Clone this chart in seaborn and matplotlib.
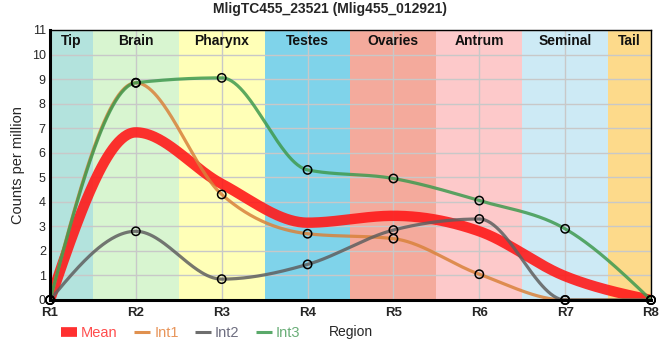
import numpy as np
import pandas as pd
import matplotlib
matplotlib.use("Agg")
import matplotlib.pyplot as plt
from matplotlib.lines import Line2D
import seaborn as sns

sns.set_theme(style="white")
plt.rcParams['font.family'] = ['Liberation Sans', 'DejaVu Sans']

regions = ["R1", "R2", "R3", "R4", "R5", "R6", "R7", "R8"]
int1 = [0, 8.85, 4.3, 2.7, 2.5, 1.05, 0, 0]
int2 = [0, 2.8, 0.85, 1.45, 2.85, 3.3, 0, 0]
int3 = [0, 8.85, 9.05, 5.3, 4.95, 4.05, 2.9, 0]
mean = [0, 6.83, 4.73, 3.15, 3.43, 2.8, 0.97, 0]

band_names = ["Tip", "Brain", "Pharynx", "Testes", "Ovaries", "Antrum", "Seminal", "Tail"]
band_starts = [0, 0.5, 1.5, 2.5, 3.5, 4.5, 5.5, 6.5]
band_ends = [0.5, 1.5, 2.5, 3.5, 4.5, 5.5, 6.5, 7]
band_colors = ["#b3e3dd", "#d8f5d0", "#ffffb7", "#7fd3ea", "#f4aa9c", "#fdc9ca", "#cdeaf5", "#fdda8b"]


def monotone_curve(y, n=60):
    """Render a monotone-X cubic curve through the points (d3.curveMonotoneX style)."""
    y = np.asarray(y, float)
    x = np.arange(len(y), dtype=float)
    s = np.diff(y)
    m = len(y)
    t = np.zeros(m)
    for i in range(1, m - 1):
        s0, s1 = s[i - 1], s[i]
        p = (s0 + s1) / 2
        t[i] = (np.sign(s0) + np.sign(s1)) * min(abs(s0), abs(s1), 0.5 * abs(p))
    t[0] = (3 * s[0] - t[1]) / 2
    t[-1] = (3 * s[-1] - t[-2]) / 2
    xs, ys = [], []
    for i in range(m - 1):
        u = np.linspace(0, 1, n, endpoint=(i == m - 2))
        h00 = 2 * u**3 - 3 * u**2 + 1
        h10 = u**3 - 2 * u**2 + u
        h01 = -2 * u**3 + 3 * u**2
        h11 = u**3 - u**2
        xs.append(x[i] + u)
        ys.append(h00 * y[i] + h10 * t[i] + h01 * y[i + 1] + h11 * t[i + 1])
    return np.concatenate(xs), np.concatenate(ys)


fig = plt.figure(figsize=(6.6, 3.6), dpi=100)
ax = fig.add_axes([50 / 660, 1 - 300 / 360, 601 / 660, 270 / 360])

for a, b, c, name in zip(band_starts, band_ends, band_colors, band_names):
    ax.axvspan(a, b, color=c, lw=0, zorder=0)
    ax.text((a + b) / 2, 10.55, name, ha="center", va="center",
            fontsize=10, fontweight="bold", color="#111111", zorder=5)

ax.set_xlim(0, 7)
ax.set_ylim(0, 11)
ax.set_xticks(range(8))
ax.set_xticklabels(regions, fontsize=9.5, fontweight="bold")
ax.set_yticks(range(12))
ax.set_yticklabels([str(v) for v in range(12)], fontsize=9)
ax.grid(True, color="#c8c8c8", lw=1, zorder=0.5)
ax.set_axisbelow(True)
ax.tick_params(axis="y", length=0, pad=3)
ax.tick_params(axis="x", length=0, pad=5)

series = [
    ("Mean", mean, "#ff1a1a", 7.5, 0.9),
    ("Int1", int1, "#d9823b", 2.3, 0.85),
    ("Int2", int2, "#5f5f5f", 2.3, 0.85),
    ("Int3", int3, "#3f9a4f", 2.3, 0.85),
]
for name, vals, col, lw, al in series:
    cx, cy = monotone_curve(vals)
    df = pd.DataFrame({"x": cx, "y": cy})
    sns.lineplot(data=df, x="x", y="y", ax=ax, color=col, lw=lw, alpha=al,
                 zorder=3, sort=False, estimator=None, solid_capstyle="butt")

for name, vals, col, lw, al in series[1:]:
    dfp = pd.DataFrame({"x": np.arange(len(vals)), "y": vals})
    sns.scatterplot(data=dfp, x="x", y="y", ax=ax, s=36, facecolor="none",
                    edgecolor="black", linewidth=1.1, zorder=6, clip_on=False)

for side in ["left", "bottom"]:
    ax.spines[side].set_linewidth(2.2)
    ax.spines[side].set_color("black")
for side in ["top", "right"]:
    ax.spines[side].set_linewidth(1)
    ax.spines[side].set_color("black")
ax.spines["left"].set_zorder(7)
ax.spines["bottom"].set_zorder(7)

ax.set_ylabel("Counts per million", fontsize=10.5)
ax.yaxis.set_label_coords(-0.042, 0.5)
ax.set_xlabel("Region", fontsize=10)
ax.xaxis.set_label_coords(0.5, -0.092)
fig.suptitle("MligTC455_23521 (Mlig455_012921)", fontsize=10, fontweight="bold", y=0.995)

handles = [Line2D([0], [0], color="#ff3030", lw=7, solid_capstyle="butt"),
           Line2D([0], [0], color="#e0914f", lw=2.2, solid_capstyle="butt"),
           Line2D([0], [0], color="#6e6e6e", lw=2.2, solid_capstyle="butt"),
           Line2D([0], [0], color="#5aa96a", lw=2.2, solid_capstyle="butt")]
labels = ["Mean", "Int1", "Int2", "Int3"]
leg = fig.legend(handles, labels, loc="center left", bbox_to_anchor=(0.072, 0.076),
                 ncol=4, frameon=False, handlelength=1.1, handletextpad=0.3,
                 columnspacing=1.1, borderpad=0.4, prop={"size": 10.5})
text_colors = ["#ff4d4d", "#e8955a", "#6e6e80", "#6aae78"]
for t, c in zip(leg.get_texts(), text_colors):
    t.set_color(c)

fig.savefig("out.png", dpi=100)
